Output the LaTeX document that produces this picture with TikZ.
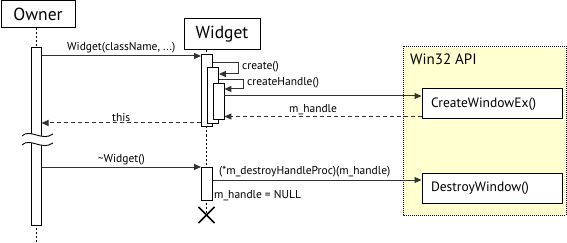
\documentclass[tikz,border=0pt]{standalone}
\usepackage{fontspec}
\setmainfont{PT Sans}
\usetikzlibrary{arrows.meta,calc}
\definecolor{apibg}{RGB}{255,255,208}
\begin{document}
\begin{tikzpicture}[x=1pt,y=-1pt,
  obj/.style={draw,line width=1pt,fill=white,inner sep=0pt,font=\fontsize{17.5}{19}\selectfont},
  bar/.style={draw,line width=0.9pt,fill=white},
  call/.style={draw=black!80,line width=1pt,-{Triangle[length=7pt,width=6pt]}},
  ret/.style={call,dash pattern=on 4pt off 3pt},
  life/.style={line width=0.8pt,dash pattern=on 2pt off 2pt},
  lbl/.style={font=\fontsize{11.5}{13}\selectfont,inner sep=1pt},
  api/.style={draw,line width=1pt,fill=white,inner xsep=9pt,inner ysep=0pt,
    minimum height=30pt,text width=122pt,align=left,font=\fontsize{13.5}{15}\selectfont}]

\useasboundingbox (0,0) rectangle (567,243);

% Win32 API frame with its two functions
\draw[fill=apibg,line width=0.8pt,dash pattern=on 1pt off 1pt] (403,46) rectangle (566,215);
\node[anchor=west,font=\fontsize{15}{17}\selectfont,inner sep=0pt] (apititle) at (410,59) {Win32 API};
\node[api] (cwe) at (492,104) {CreateWindowEx()};
\node[api] (dw) at (492,188) {DestroyWindow()};

% objects
\node[obj,minimum width=74pt,minimum height=27pt] (owner) at (38,14) {Owner};
\node[obj,minimum width=76pt,minimum height=31pt] (widget) at (222,34.5) {Widget};

% lifelines
\coordinate (ownerend) at (36,243);
\coordinate (xmark) at (206.5,215);
\draw[life] (owner.south -| ownerend) -- (ownerend);
\draw[life] (widget.south -| xmark) -- (xmark);

% Owner activation with a time break
\draw[bar] (31,47) rectangle (41.5,225);
\coordinate (obE) at (41.5,0);
\fill[white] (22,136) .. controls (30,128) and (42,142) .. (53,134)
  -- (53,143) .. controls (42,151) and (30,137) .. (22,145) -- cycle;
\draw[line width=0.9pt] (22,136) .. controls (30,128) and (42,142) .. (53,134);
\draw[line width=0.9pt] (22,145) .. controls (30,137) and (42,151) .. (53,143);

% Widget activations
\node[bar,anchor=north west,minimum width=11pt,minimum height=72pt,inner sep=0pt] (wa) at (201,54) {};
\node[bar,anchor=north west,minimum width=11pt,minimum height=56pt,inner sep=0pt] (wb) at (207,67) {};
\node[bar,anchor=north west,minimum width=11pt,minimum height=36pt,inner sep=0pt] (wc) at (212.5,83) {};
\node[bar,anchor=north west,minimum width=11pt,minimum height=33pt,inner sep=0pt] (wd) at (201,167) {};

% destruction
\draw[line width=1.6pt] ($(xmark)+(-8,-8)$) -- ($(xmark)+(8,8)$);
\draw[line width=1.6pt] ($(xmark)+(-8,8)$) -- ($(xmark)+(8,-8)$);

% messages
\coordinate (m1) at (0,56);
\draw[call] (obE |- m1) -- node[lbl,above=1pt] {Widget(className, ...)} (wa.west |- m1);

\coordinate (m2a) at (0,63);
\coordinate (m2b) at (0,74);
\draw[call] (wa.east |- m2a) -- (238,63) -- (238,74) -- (wb.east |- m2b);
\node[lbl,anchor=west] (lcreate) at (241,67) {create()};

\coordinate (m3a) at (0,80);
\coordinate (m3b) at (0,89);
\draw[call] (wb.east |- m3a) -- (243,80) -- (243,89) -- (wc.east |- m3b);
\node[lbl,anchor=west] (lch) at (246,83) {createHandle()};

\coordinate (m4) at (0,96);
\draw[call] (wc.east |- m4) -- (cwe.west |- m4);
\coordinate (m5) at (0,116.5);
\draw[ret] (cwe.west |- m5) -- node[lbl,above=0pt,pos=0.55] {m\_handle} (wc.east |- m5);

\coordinate (m6) at (0,123);
\draw[ret] (wa.west |- m6) -- node[lbl,above=0pt] {this} (obE |- m6);

\coordinate (m7) at (0,167);
\draw[call] (obE |- m7) -- node[lbl,above=0pt] {\textasciitilde Widget()} (wd.west |- m7);

\coordinate (m8) at (0,180);
\draw[call] (wd.east |- m8) -- (dw.west |- m8);
\node[lbl,anchor=west] (ldestroy) at (218,172) {(*m\_destroyHandleProc)(m\_handle)};
\node[lbl,anchor=west] (lnull) at (213,196) {m\_handle = NULL};
\end{tikzpicture}
\end{document}
